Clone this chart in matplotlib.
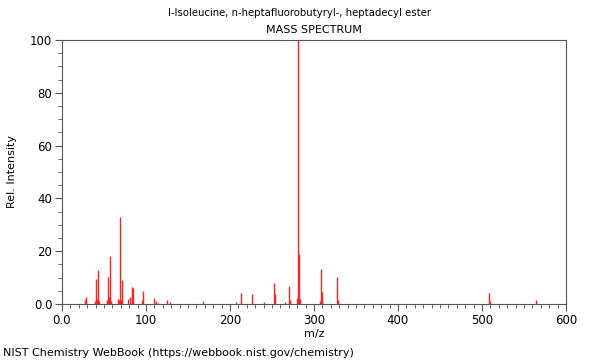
import matplotlib
matplotlib.use("Agg")
import matplotlib.pyplot as plt
from matplotlib.ticker import MultipleLocator, FuncFormatter

# peaks (m/z, relative intensity)
mz = [27, 29, 39, 41, 42, 43, 44, 53, 54, 55, 56, 57, 58,
      67, 68, 69, 70, 71, 79, 81, 83, 85, 95, 97, 110, 112, 114,
      125, 129, 168, 207, 213, 226, 240, 252, 253, 266, 270, 271,
      280, 281, 282, 283, 307, 308, 309, 327, 328, 508, 509, 564]
intensity = [1.5, 2.8, 1.2, 9.5, 2.0, 12.9, 1.0, 1.0, 1.5, 10.2, 2.5, 18.3, 1.0,
             2.0, 1.5, 33.0, 1.5, 9.0, 2.0, 2.5, 6.5, 6.0, 1.5, 4.9, 2.1, 1.3, 0.5,
             1.5, 0.8, 1.0, 0.6, 4.2, 3.8, 0.8, 7.8, 3.8, 0.8, 6.9, 1.5,
             2.3, 100.0, 19.0, 2.0, 1.0, 13.1, 4.5, 10.4, 1.5, 4.0, 1.0, 1.5]

title = "l-Isoleucine, n-heptafluorobutyryl-, heptadecyl ester"
subtitle = "MASS SPECTRUM"
footer = "NIST Chemistry WebBook (https://webbook.nist.gov/chemistry)"

fig = plt.figure(figsize=(6, 3.6), dpi=100)
ax = fig.add_axes([0.1033, 0.1556, 0.84, 0.7333])

ax.vlines(mz, 0, intensity, colors="#ff2020", linewidth=1.0)

ax.set_xlim(0, 600)
ax.set_ylim(0, 100)
ax.xaxis.set_major_locator(MultipleLocator(100))
ax.xaxis.set_minor_locator(MultipleLocator(10))
ax.yaxis.set_major_locator(MultipleLocator(20))
ax.yaxis.set_minor_locator(MultipleLocator(5))

fmt = FuncFormatter(lambda v, p: "0.0" if v == 0 else f"{v:.0f}")
ax.xaxis.set_major_formatter(fmt)
ax.yaxis.set_major_formatter(fmt)

ax.tick_params(which="major", length=5, width=0.8, color="#555555", labelsize=8.5, pad=2)
ax.tick_params(which="minor", length=3, width=0.6, color="#555555")
for s in ax.spines.values():
    s.set_color("#555555")
    s.set_linewidth(0.8)

ax.set_xlabel("m/z", fontsize=8, labelpad=2)
ax.set_ylabel("Rel. Intensity", fontsize=8)
ax.yaxis.set_label_coords(-0.09, 0.5)

fig.text(0.5, 0.964, title, ha="center", va="center", fontsize=7.3)
fig.text(0.523, 0.917, subtitle, ha="center", va="center", fontsize=8)
fig.text(0.005, 0.02, footer, ha="left", va="center", fontsize=8)

fig.savefig("out.png", dpi=100)
